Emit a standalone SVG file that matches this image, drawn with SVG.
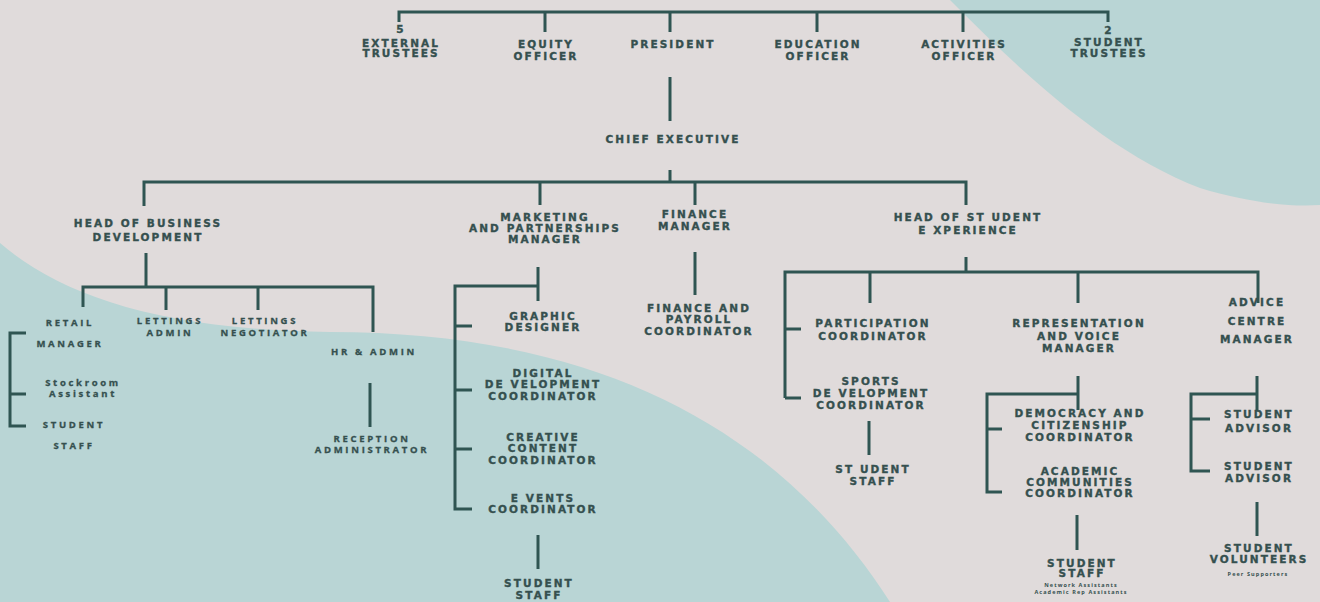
<svg xmlns="http://www.w3.org/2000/svg" width="1320" height="602" viewBox="0 0 1320 602">
<style>
.bg{fill:#e0dbdb}
.blob{fill:#b9d5d5}
.c path{fill:none;stroke:#2f5552;stroke-width:3}
text{fill:#35504f;text-anchor:middle;font-weight:bold}
.h{font-family:"DejaVu Sans",sans-serif;font-size:10.5px;letter-spacing:2.1px;stroke:#35504f;stroke-width:0.35px}
.s{font-family:"Open Sans",sans-serif;font-size:9.5px;letter-spacing:2.7px;stroke:#35504f;stroke-width:0.3px}
.x{font-family:"Open Sans",sans-serif;font-size:5.5px;letter-spacing:1.1px}
</style>
<rect class="bg" width="1320" height="602"/>
<path class="blob" d="M950 0 C1010 60 1100 150 1200 188 C1250 203 1290 207 1320 205 L1320 0 Z"/>
<path class="blob" d="M0 243 C60 295 160 330 330 332 C600 332 780 430 890 602 L0 602 Z"/>
<g class="c" id="connectors">
<path d="M399 22 V12 H1108 V22"/>
<path d="M545 12 V32 M670 12 V32 M817 12 V32 M963 12 V32"/>
<path d="M670 77 V121"/>
<path d="M670 170 V182 M144 206 V182 H966 V205 M540 182 V205 M695 182 V205"/>
<path d="M146 253 V287 M83 307 V287 H373 V332 M166 287 V310 M258 287 V310"/>
<path d="M26 333 H10 V426 H26 M10 394 H26"/>
<path d="M370 383 V427"/>
<path d="M538 267 V301 M538 286 H455 V509 H472 M455 326 H472 M455 390 H472 M455 449 H472"/>
<path d="M538 535 V569"/>
<path d="M695 252 V295"/>
<path d="M966 257 V272 M785 398 V272 H1258 V303 M870 272 V303 M1078 272 V303 M785 329 H801 M785 398 H801"/>
<path d="M869 421 V455"/>
<path d="M1078 376 V410 M1078 394 H987 V492 H1002 M987 429 H1002"/>
<path d="M1077 515 V550"/>
<path d="M1257 376 V410 M1257 394 H1191 V471 H1210 M1191 419 H1210"/>
<path d="M1257 502 V536"/>
</g>
<g id="n-external"><text class="h" x="401" y="33">5</text><text class="h" x="401" y="47">EXTERNAL</text><text class="h" x="401" y="57">TRUSTEES</text></g>
<g id="n-equity"><text class="h" x="546" y="48">EQUITY</text><text class="h" x="546" y="60">OFFICER</text></g>
<g id="n-president"><text class="h" x="673" y="48">PRESIDENT</text></g>
<g id="n-education"><text class="h" x="818" y="48">EDUCATION</text><text class="h" x="818" y="60">OFFICER</text></g>
<g id="n-activities"><text class="h" x="964" y="48">ACTIVITIES</text><text class="h" x="964" y="60">OFFICER</text></g>
<g id="n-student-trustees"><text class="h" x="1109" y="34">2</text><text class="h" x="1109" y="46">STUDENT</text><text class="h" x="1109" y="57">TRUSTEES</text></g>
<g id="n-ceo"><text class="h" x="673" y="143">CHIEF EXECUTIVE</text></g>
<g id="n-hobd"><text class="h" x="148" y="227">HEAD OF BUSINESS</text><text class="h" x="148" y="241">DEVELOPMENT</text></g>
<g id="n-marketing"><text class="h" x="545" y="221">MARKETING</text><text class="h" x="545" y="232">AND PARTNERSHIPS</text><text class="h" x="545" y="243">MANAGER</text></g>
<g id="n-finance"><text class="h" x="695" y="218">FINANCE</text><text class="h" x="695" y="230">MANAGER</text></g>
<g id="n-hose"><text class="h" x="968" y="221">HEAD OF ST UDENT</text><text class="h" x="968" y="234">E XPERIENCE</text></g>
<g id="n-retail"><text class="s" x="70" y="326">RETAIL</text><text class="s" x="70" y="347">MANAGER</text></g>
<g id="n-stockroom"><text class="s" x="83" y="386">Stockroom</text><text class="s" x="83" y="397">Assistant</text></g>
<g id="n-retail-staff"><text class="s" x="74" y="428">STUDENT</text><text class="s" x="74" y="449">STAFF</text></g>
<g id="n-lettings-admin"><text class="s" x="170" y="324">LETTINGS</text><text class="s" x="170" y="336">ADMIN</text></g>
<g id="n-lettings-neg"><text class="s" x="265" y="324">LETTINGS</text><text class="s" x="265" y="336">NEGOTIATOR</text></g>
<g id="n-hr"><text class="s" x="374" y="355">HR &amp; ADMIN</text></g>
<g id="n-reception"><text class="s" x="372" y="442">RECEPTION</text><text class="s" x="372" y="453">ADMINISTRATOR</text></g>
<g id="n-graphic"><text class="h" x="543" y="320">GRAPHIC</text><text class="h" x="543" y="331">DESIGNER</text></g>
<g id="n-digital"><text class="h" x="543" y="377">DIGITAL</text><text class="h" x="543" y="388">DE VELOPMENT</text><text class="h" x="543" y="400">COORDINATOR</text></g>
<g id="n-creative"><text class="h" x="543" y="441">CREATIVE</text><text class="h" x="543" y="452">CONTENT</text><text class="h" x="543" y="464">COORDINATOR</text></g>
<g id="n-events"><text class="h" x="543" y="502">E VENTS</text><text class="h" x="543" y="513">COORDINATOR</text></g>
<g id="n-mkt-staff"><text class="h" x="539" y="587">STUDENT</text><text class="h" x="539" y="599">STAFF</text></g>
<g id="n-payroll"><text class="h" x="699" y="312">FINANCE AND</text><text class="h" x="699" y="323">PAYROLL</text><text class="h" x="699" y="335">COORDINATOR</text></g>
<g id="n-participation"><text class="h" x="873" y="327">PARTICIPATION</text><text class="h" x="873" y="340">COORDINATOR</text></g>
<g id="n-sports"><text class="h" x="871" y="385">SPORTS</text><text class="h" x="871" y="397">DE VELOPMENT</text><text class="h" x="871" y="409">COORDINATOR</text></g>
<g id="n-sports-staff"><text class="h" x="873" y="473">ST UDENT</text><text class="h" x="873" y="485">STAFF</text></g>
<g id="n-rep"><text class="h" x="1079" y="327">REPRESENTATION</text><text class="h" x="1079" y="340">AND VOICE</text><text class="h" x="1079" y="352">MANAGER</text></g>
<g id="n-democracy"><text class="h" x="1080" y="417">DEMOCRACY AND</text><text class="h" x="1080" y="429">CITIZENSHIP</text><text class="h" x="1080" y="441">COORDINATOR</text></g>
<g id="n-academic"><text class="h" x="1080" y="475">ACADEMIC</text><text class="h" x="1080" y="486">COMMUNITIES</text><text class="h" x="1080" y="497">COORDINATOR</text></g>
<g id="n-rep-staff"><text class="h" x="1082" y="567">STUDENT</text><text class="h" x="1082" y="577">STAFF</text><text class="x" x="1081" y="587">Network Assistants</text><text class="x" x="1081" y="594">Academic Rep Assistants</text></g>
<g id="n-advice"><text class="h" x="1257" y="306">ADVICE</text><text class="h" x="1257" y="325">CENTRE</text><text class="h" x="1257" y="343">MANAGER</text></g>
<g id="n-advisor1"><text class="h" x="1259" y="418">STUDENT</text><text class="h" x="1259" y="432">ADVISOR</text></g>
<g id="n-advisor2"><text class="h" x="1259" y="470">STUDENT</text><text class="h" x="1259" y="482">ADVISOR</text></g>
<g id="n-volunteers"><text class="h" x="1259" y="552">STUDENT</text><text class="h" x="1259" y="563">VOLUNTEERS</text><text class="x" x="1258" y="576">Peer Supporters</text></g>
</svg>
